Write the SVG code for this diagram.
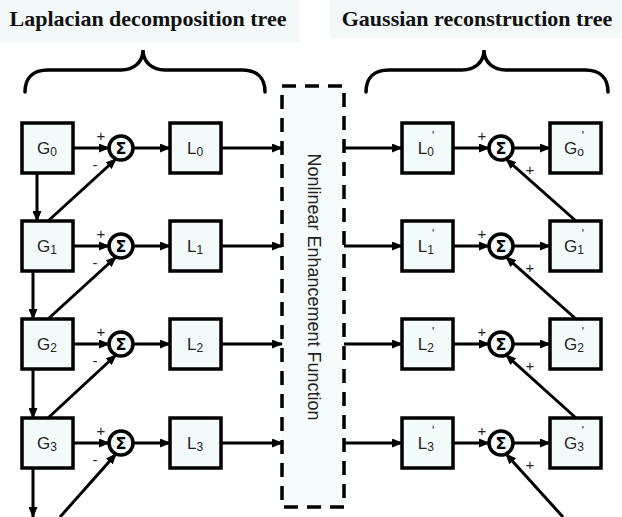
<svg xmlns="http://www.w3.org/2000/svg" width="622" height="517" viewBox="0 0 622 517">
  <style>
    .box { fill: #f3fafa; stroke: #000; stroke-width: 3.5; }
    .sum { fill: #f3fafa; stroke: #000; stroke-width: 3.5; }
    .wire { stroke: #000; stroke-width: 3; fill: none; marker-end: url(#arrow); }
    .brace { stroke: #000; stroke-width: 3.5; fill: none; stroke-linecap: round; }
    .lbl { font-family: "Liberation Sans", Arial, sans-serif; font-size: 17px; fill: #222; text-anchor: middle; }
    .sub { font-size: 12px; }
    .sign { font-family: "Liberation Sans", Arial, sans-serif; font-size: 15px; fill: #222; text-anchor: middle; }
    .sigma { font-family: "DejaVu Sans", sans-serif; font-size: 16px; font-weight: bold; fill: #000; text-anchor: middle; }
    .title { font-family: "Liberation Serif", "Times New Roman", serif; font-size: 22px; font-weight: bold; fill: #111; text-anchor: middle; }
  </style>
  <defs>
    <marker id="arrow" markerUnits="userSpaceOnUse" markerWidth="11" markerHeight="9" refX="10" refY="4.5" orient="auto">
      <path d="M0,0 L11,4.5 L0,9 Z" fill="#000"/>
    </marker>
  </defs>

  <rect width="622" height="517" fill="#fff"/>

  <!-- title bands -->
  <rect x="0" y="0" width="300" height="42" fill="#f3f8f8"/>
  <rect x="330" y="0" width="292" height="38" fill="#f3f8f8"/>
  <text class="title" x="148" y="26">Laplacian decomposition tree</text>
  <text class="title" x="477" y="26">Gaussian reconstruction tree</text>

  <!-- braces -->
  <path class="brace" d="M25,92 C25,78 33,70 48,70 L121,70 C134,70 143,62 143,50 C143,62 152,70 165,70 L242,70 C257,70 265,78 265,92"/>
  <path class="brace" d="M366,92 C366,78 374,70 389,70 L462,70 C475,70 484,62 484,50 C484,62 493,70 506,70 L585,70 C600,70 608,78 608,92"/>

  <!-- enhancement block -->
  <g id="enhance">
    <rect x="282" y="86" width="62" height="421" fill="#f6fbfb" stroke="#000" stroke-width="3.5" stroke-dasharray="14,9"/>
    <text class="lbl" style="font-size:18px" transform="translate(308,287) rotate(90)">Nonlinear Enhancement Function</text>
  </g>

  <!-- connectors -->
  <g id="connectors">
    <!-- row 0 -->
    <line class="wire" x1="73" y1="148" x2="109" y2="148"/>
    <line class="wire" x1="133" y1="148" x2="170" y2="148"/>
    <line class="wire" x1="221" y1="148" x2="282" y2="148"/>
    <line class="wire" x1="344" y1="148" x2="402" y2="148"/>
    <line class="wire" x1="453" y1="148" x2="489" y2="148"/>
    <line class="wire" x1="513" y1="148" x2="550" y2="148"/>
    <!-- row 1 -->
    <line class="wire" x1="73" y1="246" x2="109" y2="246"/>
    <line class="wire" x1="133" y1="246" x2="170" y2="246"/>
    <line class="wire" x1="221" y1="246" x2="282" y2="246"/>
    <line class="wire" x1="344" y1="246" x2="402" y2="246"/>
    <line class="wire" x1="453" y1="246" x2="489" y2="246"/>
    <line class="wire" x1="513" y1="246" x2="550" y2="246"/>
    <!-- row 2 -->
    <line class="wire" x1="73" y1="344" x2="109" y2="344"/>
    <line class="wire" x1="133" y1="344" x2="170" y2="344"/>
    <line class="wire" x1="221" y1="344" x2="282" y2="344"/>
    <line class="wire" x1="344" y1="344" x2="402" y2="344"/>
    <line class="wire" x1="453" y1="344" x2="489" y2="344"/>
    <line class="wire" x1="513" y1="344" x2="550" y2="344"/>
    <!-- row 3 -->
    <line class="wire" x1="73" y1="443" x2="109" y2="443"/>
    <line class="wire" x1="133" y1="443" x2="170" y2="443"/>
    <line class="wire" x1="221" y1="443" x2="282" y2="443"/>
    <line class="wire" x1="344" y1="443" x2="402" y2="443"/>
    <line class="wire" x1="453" y1="443" x2="489" y2="443"/>
    <line class="wire" x1="513" y1="443" x2="550" y2="443"/>

    <!-- downsampling chain -->
    <line class="wire" x1="37" y1="173" x2="37" y2="221"/>
    <line class="wire" x1="33" y1="271" x2="33" y2="319"/>
    <line class="wire" x1="33" y1="369" x2="33" y2="418"/>
    <line class="wire" x1="33" y1="468" x2="33" y2="517"/>

    <!-- subtractive feeds into the left sums -->
    <line class="wire" x1="48" y1="221" x2="116" y2="159"/>
    <line class="wire" x1="48" y1="319" x2="116" y2="257"/>
    <line class="wire" x1="48" y1="418" x2="116" y2="355"/>
    <line class="wire" x1="60" y1="517" x2="116" y2="454"/>

    <!-- additive feeds into the right sums -->
    <line class="wire" x1="576" y1="221" x2="506" y2="159"/>
    <line class="wire" x1="576" y1="319" x2="506" y2="257"/>
    <line class="wire" x1="576" y1="418" x2="506" y2="355"/>
    <line class="wire" x1="563" y1="517" x2="506" y2="454"/>
  </g>

  <!-- sign labels -->
  <g id="signs">
    <text class="sign" x="101" y="141">+</text>
    <text class="sign" x="95" y="170">-</text>
    <text class="sign" x="101" y="239">+</text>
    <text class="sign" x="95" y="268">-</text>
    <text class="sign" x="101" y="337">+</text>
    <text class="sign" x="95" y="366">-</text>
    <text class="sign" x="101" y="436">+</text>
    <text class="sign" x="95" y="465">-</text>

    <text class="sign" x="482" y="141">+</text>
    <text class="sign" x="530" y="175">+</text>
    <text class="sign" x="482" y="239">+</text>
    <text class="sign" x="530" y="273">+</text>
    <text class="sign" x="482" y="337">+</text>
    <text class="sign" x="530" y="371">+</text>
    <text class="sign" x="482" y="436">+</text>
    <text class="sign" x="530" y="470">+</text>
  </g>

  <!-- Laplacian decomposition nodes -->
  <g id="G0"><rect class="box" x="22" y="123" width="51" height="50"/><text class="lbl" x="47" y="154">G<tspan class="sub" dy="2">0</tspan></text></g>
  <g id="G1"><rect class="box" x="22" y="221" width="51" height="50"/><text class="lbl" x="47" y="252">G<tspan class="sub" dy="2">1</tspan></text></g>
  <g id="G2"><rect class="box" x="22" y="319" width="51" height="50"/><text class="lbl" x="47" y="350">G<tspan class="sub" dy="2">2</tspan></text></g>
  <g id="G3"><rect class="box" x="22" y="418" width="51" height="50"/><text class="lbl" x="47" y="449">G<tspan class="sub" dy="2">3</tspan></text></g>

  <g id="S0"><circle class="sum" cx="121" cy="148" r="12"/><text class="sigma" x="121" y="154">Σ</text></g>
  <g id="S1"><circle class="sum" cx="121" cy="246" r="12"/><text class="sigma" x="121" y="252">Σ</text></g>
  <g id="S2"><circle class="sum" cx="121" cy="344" r="12"/><text class="sigma" x="121" y="350">Σ</text></g>
  <g id="S3"><circle class="sum" cx="121" cy="443" r="12"/><text class="sigma" x="121" y="449">Σ</text></g>

  <g id="L0"><rect class="box" x="170" y="123" width="51" height="50"/><text class="lbl" x="195" y="154">L<tspan class="sub" dy="2">0</tspan></text></g>
  <g id="L1"><rect class="box" x="170" y="221" width="51" height="50"/><text class="lbl" x="195" y="252">L<tspan class="sub" dy="2">1</tspan></text></g>
  <g id="L2"><rect class="box" x="170" y="319" width="51" height="50"/><text class="lbl" x="195" y="350">L<tspan class="sub" dy="2">2</tspan></text></g>
  <g id="L3"><rect class="box" x="170" y="418" width="51" height="50"/><text class="lbl" x="195" y="449">L<tspan class="sub" dy="2">3</tspan></text></g>

  <!-- Gaussian reconstruction nodes -->
  <g id="L0p"><rect class="box" x="402" y="123" width="51" height="50"/><text class="lbl" x="426" y="154">L<tspan class="sub" dy="2">0</tspan><tspan class="sub" dy="-16" dx="-2">'</tspan></text></g>
  <g id="L1p"><rect class="box" x="402" y="221" width="51" height="50"/><text class="lbl" x="426" y="252">L<tspan class="sub" dy="2">1</tspan><tspan class="sub" dy="-16" dx="-2">'</tspan></text></g>
  <g id="L2p"><rect class="box" x="402" y="319" width="51" height="50"/><text class="lbl" x="426" y="350">L<tspan class="sub" dy="2">2</tspan><tspan class="sub" dy="-16" dx="-2">'</tspan></text></g>
  <g id="L3p"><rect class="box" x="402" y="418" width="51" height="50"/><text class="lbl" x="426" y="449">L<tspan class="sub" dy="2">3</tspan><tspan class="sub" dy="-16" dx="-2">'</tspan></text></g>

  <g id="R0"><circle class="sum" cx="501" cy="148" r="12"/><text class="sigma" x="501" y="154">Σ</text></g>
  <g id="R1"><circle class="sum" cx="501" cy="246" r="12"/><text class="sigma" x="501" y="252">Σ</text></g>
  <g id="R2"><circle class="sum" cx="501" cy="344" r="12"/><text class="sigma" x="501" y="350">Σ</text></g>
  <g id="R3"><circle class="sum" cx="501" cy="443" r="12"/><text class="sigma" x="501" y="449">Σ</text></g>

  <g id="G0p"><rect class="box" x="550" y="123" width="51" height="50"/><text class="lbl" x="574" y="154">G<tspan class="sub" dy="2">o</tspan><tspan class="sub" dy="-16" dx="-2">'</tspan></text></g>
  <g id="G1p"><rect class="box" x="550" y="221" width="51" height="50"/><text class="lbl" x="574" y="252">G<tspan class="sub" dy="2">1</tspan><tspan class="sub" dy="-16" dx="-2">'</tspan></text></g>
  <g id="G2p"><rect class="box" x="550" y="319" width="51" height="50"/><text class="lbl" x="574" y="350">G<tspan class="sub" dy="2">2</tspan><tspan class="sub" dy="-16" dx="-2">'</tspan></text></g>
  <g id="G3p"><rect class="box" x="550" y="418" width="51" height="50"/><text class="lbl" x="574" y="449">G<tspan class="sub" dy="2">3</tspan><tspan class="sub" dy="-16" dx="-2">'</tspan></text></g>
</svg>
